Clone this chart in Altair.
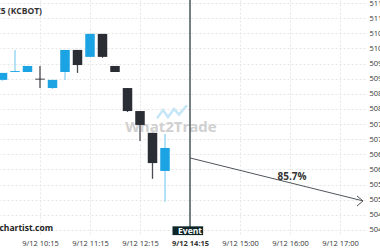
import altair as alt
import pandas as pd

# ---- data ----
slot = list(range(14))
opens  = [508.96, 509.22, 509.22, 509.00, 508.69, 509.22, 509.95, 509.72, 510.48, 509.42, 508.69, 507.93, 507.21, 505.95]
closes = [509.19, 509.25, 509.42, 508.97, 508.96, 509.95, 509.45, 510.48, 509.72, 509.22, 507.93, 507.47, 506.21, 506.71]
highs  = [509.19, 509.95, 509.42, 509.42, 508.96, 509.95, 509.95, 510.48, 510.48, 509.42, 508.69, 507.93, 507.21, 507.17]
lows   = [508.93, 509.22, 509.22, 508.69, 508.66, 508.96, 509.19, 509.72, 509.69, 509.22, 507.90, 506.94, 505.69, 504.93]

price_ticks = [511.5, 511.0, 510.5, 510.0, 509.5, 509.0, 508.5, 508.0, 507.5, 507.0, 506.5, 506.0, 505.5, 505.0, 504.5, 504.0]
time_slots  = [3, 7, 11, 15, 19, 23, 27]
time_labels = ["9/12 10:15", "9/12 11:15", "9/12 12:15", "9/12 14:15", "9/12 15:00", "9/12 16:00", "9/12 17:00"]

event_slot = 15
arrow_x = [15, 28.84]
arrow_y = [506.38, 504.96]
head_x = [28.36, 28.84, 28.36]
head_y = [505.12, 504.96, 504.79]
prob_label = "85.7%"

# watermark logo zigzag (decoration)
logo_x = [12.36, 12.84, 13.24, 13.72, 14.12, 14.76]
logo_y = [507.69, 507.96, 507.73, 508.00, 507.81, 508.12]

BLUE = "#1ba3e3"
BLUE_WICK = "#8ad1f1"
DARK = "#2b2d35"
DARK_WICK = "#4a4c53"
EVENT = "#1d3236"
FONT = "Open Sans"

df = pd.DataFrame({"slot": slot, "open": opens, "close": closes, "high": highs, "low": lows})

xs = alt.Scale(domain=[-0.2, 29], nice=False, zero=False)
ys = alt.Scale(domain=[503.8, 511.6], nice=False, zero=False)

label_expr = ""
for s, l in zip(time_slots, time_labels):
    label_expr += f"datum.value == {s} ? '{l}' : "
label_expr += "''"

x_axis = alt.Axis(values=time_slots, labelExpr=label_expr, grid=True, gridDash=[2, 2],
                  gridColor="#e6e6e6", domain=False, ticks=False, labelPadding=3,
                  labelFontSize=7.5, labelColor="#333", labelFont=FONT,
                  labelFontWeight={"condition": {"test": f"datum.value == {event_slot}", "value": "bold"}, "value": "normal"},
                  title=None)
y_axis = alt.Axis(orient="right", values=price_ticks, format=".2f", grid=True, gridDash=[2, 2],
                  gridColor="#e6e6e6", domain=False, ticks=False, labelPadding=4,
                  labelFontSize=7.5, labelColor="#333", labelFont=FONT, title=None)


def X(f):
    return alt.X(f, scale=xs, axis=x_axis, title=None)


def Y(f):
    return alt.Y(f, scale=ys, axis=y_axis, title=None)


base = alt.Chart(df).transform_calculate(
    x0="datum.slot - 0.38",
    x1="datum.slot + 0.38",
)
is_up = "datum.close >= datum.open"

watermark = alt.Chart(pd.DataFrame({"t": ["What2Trade"]})).mark_text(
    font=FONT, fontWeight="bold", fontSize=15, color="#d0d0d0", align="center", baseline="middle"
).encode(x=alt.value(171), y=alt.value(127), text="t:N")
logo = alt.Chart(pd.DataFrame({"x": logo_x, "y": logo_y, "o": list(range(len(logo_x)))})).mark_line(
    color="#c4e6f7", strokeWidth=2.5).encode(x=X("x:Q"), y=Y("y:Q"), order="o:Q")

wicks = base.mark_rule(strokeWidth=1.3).encode(
    x=X("slot:Q"), y=Y("low:Q"), y2="high:Q",
    color=alt.condition(is_up, alt.value(BLUE_WICK), alt.value(DARK_WICK)),
)

bodies = base.mark_rect().encode(
    x=X("x0:Q"), x2="x1:Q", y=Y("open:Q"), y2="close:Q",
    color=alt.condition(is_up, alt.value(BLUE), alt.value(DARK)),
)

ev = pd.DataFrame({"slot": [event_slot], "top": [511.6], "bot": [504.1],
                   "bx0": [13.6], "bx1": [16.05], "by0": [504.12], "by1": [503.83],
                   "ty": [503.975], "label": ["Event"]})
event_line = alt.Chart(ev).mark_rule(color=EVENT, strokeWidth=1.2).encode(
    x=X("slot:Q"), y=Y("top:Q"), y2="bot:Q")
event_box = alt.Chart(ev).mark_rect(color="#0f2629").encode(
    x=X("bx0:Q"), x2="bx1:Q", y=Y("by0:Q"), y2="by1:Q")
event_text = alt.Chart(ev).mark_text(color="white", fontWeight="bold", fontSize=8.5, font=FONT,
                                     baseline="middle").encode(
    x=X("slot:Q"), y=Y("ty:Q"), text="label:N")

arrow = alt.Chart(pd.DataFrame({"x": arrow_x, "y": arrow_y})).mark_line(color="#50555b", strokeWidth=1).encode(
    x=X("x:Q"), y=Y("y:Q"))
head = alt.Chart(pd.DataFrame({"x": head_x, "y": head_y, "o": [0, 1, 2]})).mark_line(color="#50555b", strokeWidth=1).encode(
    x=X("x:Q"), y=Y("y:Q"), order="o:Q")
prob = alt.Chart(pd.DataFrame({"x": [23.16], "y": [505.75], "t": [prob_label]})).mark_text(
    fontWeight="bold", fontSize=10, color="#333", font=FONT, baseline="middle").encode(
    x=X("x:Q"), y=Y("y:Q"), text="t:N")

title = alt.Chart(pd.DataFrame({"t": ["KC HRW Wheat Z5 (KCBOT)"]})).mark_text(
    font=FONT, fontWeight="bold", fontSize=8.5, color="#333", align="right", baseline="middle"
).encode(x=alt.value(42), y=alt.value(11), text="t:N")
site = alt.Chart(pd.DataFrame({"t": ["www.forex-chartist.com"]})).mark_text(
    font=FONT, fontWeight="bold", fontSize=8.5, color="#222", align="right", baseline="middle"
).encode(x=alt.value(53), y=alt.value(228), text="t:N")

chart = alt.layer(logo, watermark, wicks, bodies, event_line, arrow, head, prob, event_box, event_text, title, site).properties(
    width=365, height=236, autosize=alt.AutoSizeParams(type="none"),
    padding={"left": 0, "top": 0, "right": 15, "bottom": 14},
).configure_view(stroke=None)

chart.save("out.html", embed_options={"renderer": "svg", "actions": False})
